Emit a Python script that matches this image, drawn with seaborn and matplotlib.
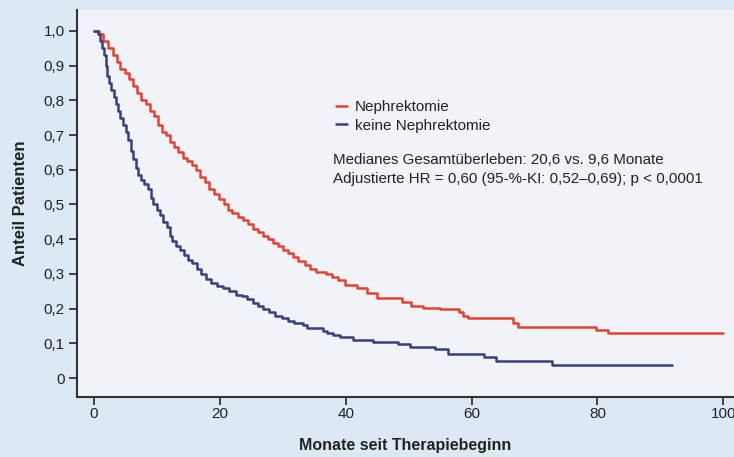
import numpy as np
import pandas as pd
import seaborn as sns
import matplotlib.pyplot as plt
from matplotlib.lines import Line2D

sns.set_style("ticks")
plt.rcParams['font.family'] = ['Liberation Sans Narrow', 'Liberation Sans', 'DejaVu Sans']

# Kaplan-Meier steps (time in months, survival fraction)
neph_t = [0, 0.8, 1.5, 2.2, 3.0, 3.6, 4.2, 4.9, 5.5, 6.2, 6.8, 7.5, 8.2, 8.9, 9.6,
          10.2, 10.8, 11.4, 12.0, 12.7, 13.4, 14.1, 14.8, 15.5, 16.2, 16.9, 17.6,
          18.3, 19.0, 19.8, 20.6, 21.3, 22.0, 22.8, 23.6, 24.4, 25.2, 26.0, 26.8,
          27.6, 28.4, 29.2, 30.0, 30.8, 31.6, 32.4, 33.5, 34.3, 35.3, 36.9, 37.8,
          38.8, 39.9, 41.8, 43.4, 45.0, 49.0, 50.4, 52.3, 55.0, 58.0, 58.7, 59.5,
          66.5, 67.4, 79.7, 81.6, 100.0]
neph_s = [1.00, 0.99, 0.97, 0.95, 0.93, 0.91, 0.89, 0.88, 0.86, 0.84, 0.82, 0.80,
          0.79, 0.77, 0.755, 0.73, 0.71, 0.70, 0.68, 0.665, 0.65, 0.635, 0.625,
          0.615, 0.60, 0.58, 0.565, 0.545, 0.53, 0.515, 0.50, 0.485, 0.475, 0.465,
          0.455, 0.445, 0.43, 0.42, 0.41, 0.40, 0.39, 0.38, 0.37, 0.36, 0.35, 0.337,
          0.326, 0.314, 0.305, 0.30, 0.291, 0.282, 0.268, 0.259, 0.245, 0.230,
          0.219, 0.207, 0.202, 0.199, 0.19, 0.18, 0.173, 0.159, 0.147, 0.138,
          0.129, 0.129]

keine_t = [0, 0.7, 1.0, 1.3, 1.6, 1.9, 2.1, 2.3, 2.7, 3.1, 3.5, 3.8, 4.2, 4.6, 5.0,
           5.4, 5.8, 6.2, 6.6, 7.0, 7.4, 8.0, 8.6, 9.0, 9.4, 10.0, 10.5, 11.0, 11.6,
           12.0, 12.4, 13.0, 13.7, 14.3, 15.0, 15.6, 16.3, 17.0, 17.8, 18.6, 19.5,
           20.5, 21.5, 22.5, 23.5, 24.3, 25.2, 26.0, 26.9, 27.8, 28.8, 29.8, 30.8,
           31.8, 33.2, 33.9, 36.4, 37.0, 38.0, 39.1, 41.2, 44.4, 48.3, 50.2, 54.2,
           56.3, 62.0, 63.9, 72.7, 91.9]
keine_s = [1.00, 0.99, 0.97, 0.95, 0.93, 0.90, 0.87, 0.85, 0.83, 0.81, 0.79, 0.77,
           0.75, 0.73, 0.71, 0.685, 0.655, 0.63, 0.605, 0.585, 0.57, 0.56, 0.545,
           0.52, 0.50, 0.485, 0.47, 0.45, 0.435, 0.41, 0.395, 0.38, 0.37, 0.355,
           0.34, 0.33, 0.315, 0.30, 0.285, 0.275, 0.265, 0.258, 0.25, 0.24, 0.235,
           0.228, 0.215, 0.208, 0.198, 0.19, 0.18, 0.172, 0.165, 0.159, 0.153,
           0.145, 0.135, 0.129, 0.124, 0.119, 0.11, 0.105, 0.097, 0.09, 0.084,
           0.069, 0.06, 0.048, 0.038, 0.038]

groups = ["Nephrektomie", "keine Nephrektomie"]
colors = ["#e8412f", "#3a3d7e"]
y_ticks = [0, 0.1, 0.2, 0.3, 0.4, 0.5, 0.6, 0.7, 0.8, 0.9, 1.0]
y_labels = ["0", "0,1", "0,2", "0,3", "0,4", "0,5", "0,6", "0,7", "0,8", "0,9", "1,0"]
x_ticks = [0, 20, 40, 60, 80, 100]

df = pd.concat([
    pd.DataFrame({"t": neph_t, "s": neph_s, "grp": groups[0]}),
    pd.DataFrame({"t": keine_t, "s": keine_s, "grp": groups[1]}),
])

fig = plt.figure(figsize=(7.34, 4.57), dpi=100, facecolor="#dce9f4")
ax = fig.add_axes([0.105, 0.131, 0.895, 0.847])
ax.set_facecolor("#f0f4f8")

for g, c in zip(groups, colors):
    d = df[df.grp == g]
    sns.lineplot(x=d.t, y=d.s, ax=ax, color=c, lw=1.8, drawstyle="steps-post",
                 estimator=None, sort=False)

ax.set_xlim(-2.7, 101.7)
ax.set_ylim(-0.055, 1.06)
ax.set_xticks(x_ticks)
ax.set_xticklabels([str(v) for v in x_ticks], fontsize=11)
ax.set_yticks(y_ticks)
ax.set_yticklabels(y_labels, fontsize=11)
ax.tick_params(length=6, width=1.3, color="#333333", labelcolor="#222222", pad=3)
ax.tick_params(axis="x", pad=1)
for sp in ["top", "right"]:
    ax.spines[sp].set_visible(False)
for sp in ["left", "bottom"]:
    ax.spines[sp].set_linewidth(1.5)
    ax.spines[sp].set_color("#333333")

ax.set_xlabel("Monate seit Therapiebeginn", fontsize=11.5, fontweight="bold",
              color="#222222", labelpad=12)
ax.set_ylabel("Anteil Patienten", fontsize=12, fontweight="bold",
              color="#222222", labelpad=11)

handles = [Line2D([], [], color=c, lw=1.8) for c in colors]
leg = ax.legend(handles, groups, loc="upper left", bbox_to_anchor=(0.373, 0.803),
                frameon=False, handlelength=0.75, handletextpad=0.5, labelspacing=0.3,
                prop={"family": "Liberation Sans", "size": 11})
for t in leg.get_texts():
    t.set_color("#222222")

ax.text(0.39, 0.63, "Medianes Gesamtüberleben: 20,6 vs. 9,6 Monate\n"
        "Adjustierte HR = 0,60 (95-%-KI: 0,52–0,69); p < 0,0001",
        transform=ax.transAxes, family="Liberation Sans", fontsize=10.9,
        color="#222222", linespacing=1.4, va="top")

fig.savefig("out.png", dpi=100, facecolor=fig.get_facecolor())
